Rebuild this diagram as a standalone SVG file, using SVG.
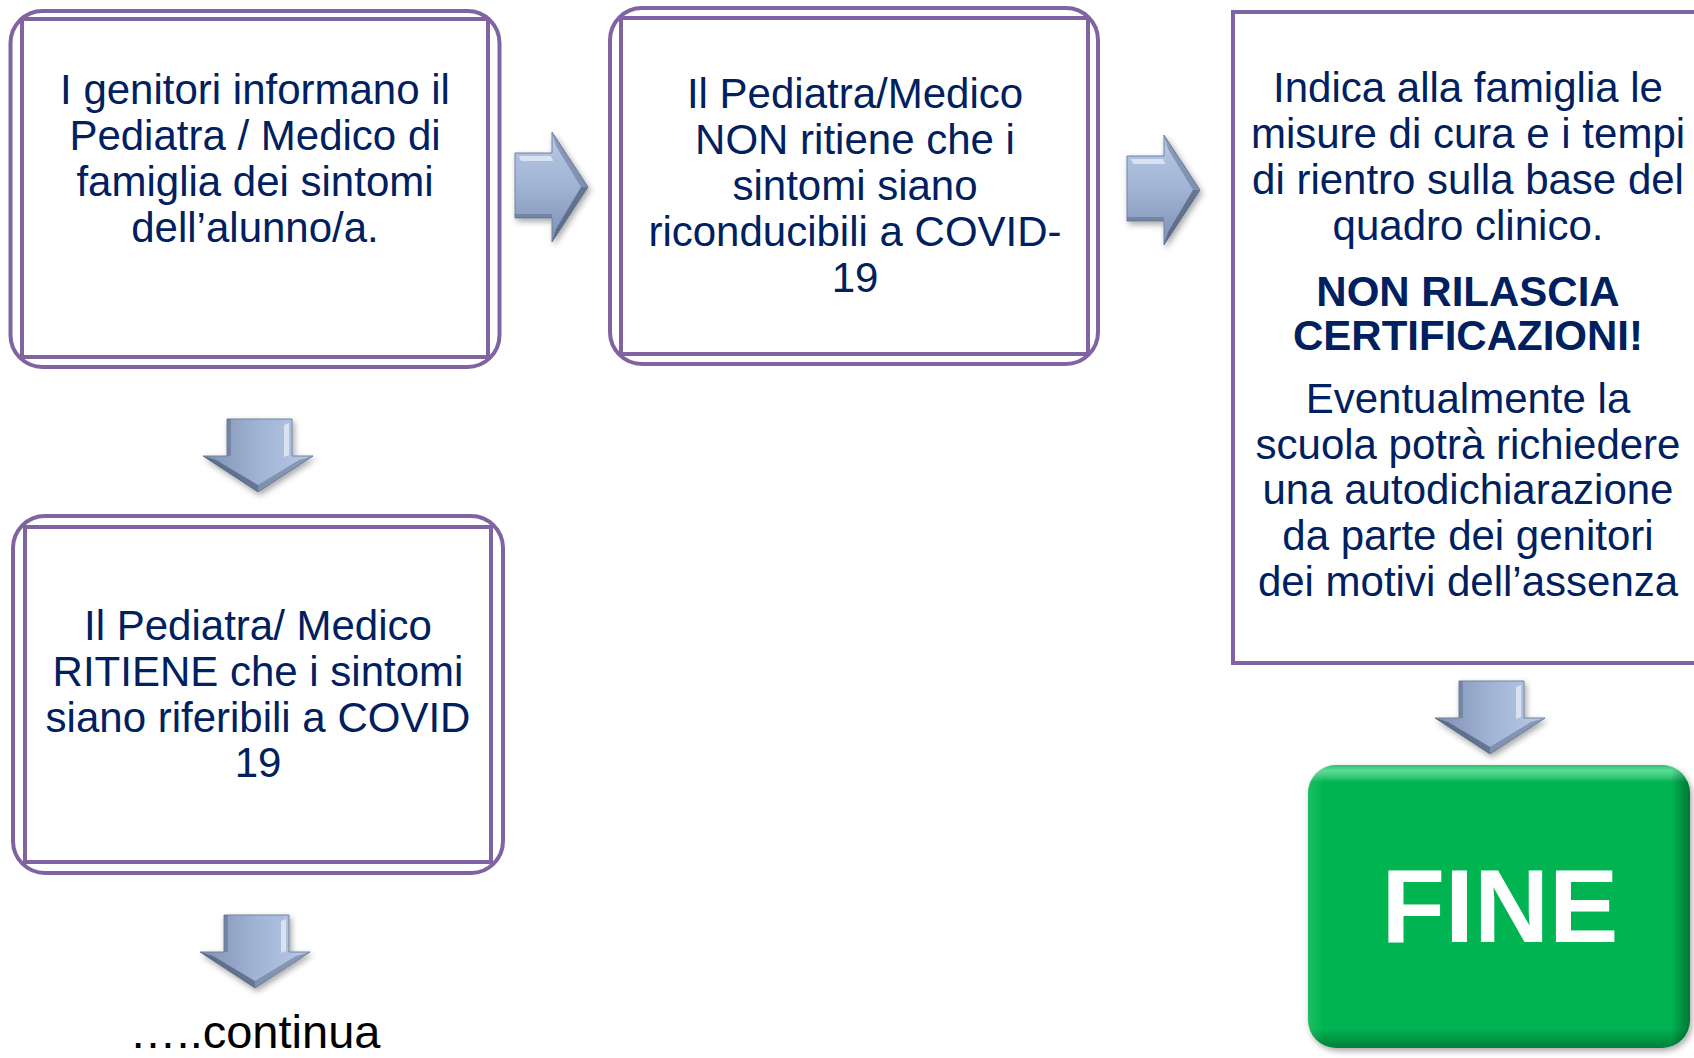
<svg xmlns="http://www.w3.org/2000/svg" width="1694" height="1058" viewBox="0 0 1694 1058">
<style>
.t{font-family:"Liberation Sans",Arial,sans-serif;font-size:42px;fill:#002060;text-anchor:middle}
.b{font-weight:bold}
.o{fill:none;stroke:#8064A2;stroke-width:4}
.i{fill:none;stroke:#8064A2;stroke-width:4}
</style>
<defs>
<linearGradient id="ag" x1="0" y1="0" x2="0" y2="1">
<stop offset="0" stop-color="#B9CAE7"/>
<stop offset="0.5" stop-color="#A0B3D4"/>
<stop offset="1" stop-color="#7D90B1"/>
</linearGradient>
<filter id="sh" x="-20%" y="-20%" width="150%" height="150%">
<feDropShadow dx="2" dy="3" stdDeviation="3" flood-color="#000" flood-opacity="0.35"/>
</filter>
<g id="arr">
<path d="M0,21 H37 V0 L73,55 L37,110 V86 H0 Z" fill="url(#ag)" stroke="#6F81A0" stroke-width="1"/>
<path d="M4,24 H36 L38,29 H6 Z" fill="#FFFFFF" opacity="0.55"/>
<path d="M37,0 L73,55 L66,55 L41,14 Z" fill="#5C6D8A" opacity="0.5"/>
<path d="M37,110 L73,55 L66,55 L41,97 Z" fill="#46566F" opacity="0.65"/>
<path d="M0,82 H37 V86 H0 Z" fill="#4E5E7A" opacity="0.4"/>
</g>
<linearGradient id="gv" x1="0" y1="0" x2="0" y2="1">
<stop offset="0" stop-color="#FFFFFF" stop-opacity="0.15"/>
<stop offset="0.02" stop-color="#9FFFD0" stop-opacity="0.55"/>
<stop offset="0.06" stop-color="#FFFFFF" stop-opacity="0"/>
<stop offset="0.93" stop-color="#000000" stop-opacity="0"/>
<stop offset="1" stop-color="#000000" stop-opacity="0.3"/>
</linearGradient>
<linearGradient id="gh" x1="0" y1="0" x2="1" y2="0">
<stop offset="0" stop-color="#FFFFFF" stop-opacity="0.12"/>
<stop offset="0.04" stop-color="#FFFFFF" stop-opacity="0"/>
<stop offset="0.95" stop-color="#000000" stop-opacity="0"/>
<stop offset="1" stop-color="#000000" stop-opacity="0.35"/>
</linearGradient>
</defs>
<rect width="1694" height="1058" fill="#FFFFFF"/>

<g id="connectors">
<g filter="url(#sh)"><use href="#arr" transform="translate(515,132)"/></g>
<g filter="url(#sh)"><use href="#arr" transform="translate(1127,135)"/></g>
<g filter="url(#sh)"><use href="#arr" transform="translate(313,419) rotate(90)"/></g>
<g filter="url(#sh)"><use href="#arr" transform="translate(310,915) rotate(90)"/></g>
<g filter="url(#sh)"><use href="#arr" transform="translate(1545,681) rotate(90)"/></g>
</g>

<g id="node1">
<rect class="o" x="10.5" y="11" width="489" height="356" rx="32"/>
<rect class="i" x="22" y="19" width="466" height="338"/>
<text class="t" x="255" y="104">I genitori informano il</text>
<text class="t" x="255" y="150">Pediatra / Medico di</text>
<text class="t" x="255" y="196">famiglia dei sintomi</text>
<text class="t" x="255" y="242">dell’alunno/a.</text>
</g>

<g id="node2">
<rect class="o" x="610" y="8" width="488" height="356" rx="32"/>
<rect class="i" x="621" y="18" width="467" height="336"/>
<text class="t" x="855" y="108">Il Pediatra/Medico</text>
<text class="t" x="855" y="154">NON ritiene che i</text>
<text class="t" x="855" y="200">sintomi siano</text>
<text class="t" x="855" y="246">riconducibili a COVID-</text>
<text class="t" x="855" y="292">19</text>
</g>

<g id="node3">
<rect class="o" x="13" y="516" width="490" height="357" rx="32"/>
<rect class="i" x="25" y="527" width="466" height="335"/>
<text class="t" x="258" y="640">Il Pediatra/ Medico</text>
<text class="t" x="258" y="686">RITIENE che i sintomi</text>
<text class="t" x="258" y="732">siano riferibili a COVID</text>
<text class="t" x="258" y="777">19</text>
</g>

<g id="node4">
<rect class="o" x="1233" y="12" width="472" height="651"/>
<text class="t" x="1468" y="102">Indica alla famiglia le</text>
<text class="t" x="1468" y="148">misure di cura e i tempi</text>
<text class="t" x="1468" y="194">di rientro sulla base del</text>
<text class="t" x="1468" y="240">quadro clinico.</text>
<text class="t b" x="1468" y="306">NON RILASCIA</text>
<text class="t b" x="1468" y="350">CERTIFICAZIONI!</text>
<text class="t" x="1468" y="413">Eventualmente la</text>
<text class="t" x="1468" y="459">scuola potrà richiedere</text>
<text class="t" x="1468" y="504">una autodichiarazione</text>
<text class="t" x="1468" y="550">da parte dei genitori</text>
<text class="t" x="1468" y="596">dei motivi dell’assenza</text>
</g>

<g id="node5">
<g filter="url(#sh)">
<rect x="1308" y="765" width="382" height="283" rx="28" fill="#00B551"/>
</g>
<rect x="1308" y="765" width="382" height="283" rx="28" fill="url(#gv)"/>
<rect x="1308" y="765" width="382" height="283" rx="28" fill="url(#gh)"/>
<text x="1500" y="942" font-family="Liberation Sans,Arial,sans-serif" font-size="104" font-weight="bold" fill="#FFFFFF" text-anchor="middle">FINE</text>
</g>

<g id="continua">
<text x="255" y="1048" font-family="Liberation Sans,Arial,sans-serif" font-size="47" fill="#000000" text-anchor="middle">…..continua</text>
</g>
</svg>
